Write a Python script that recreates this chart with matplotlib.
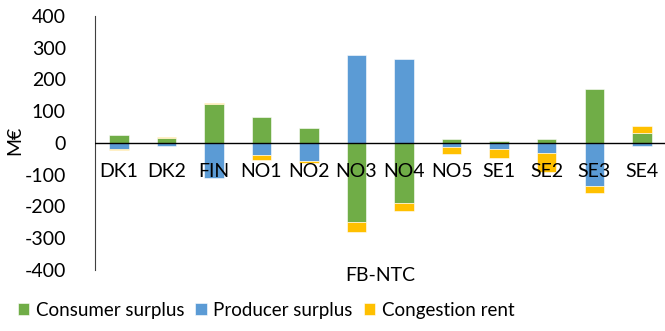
import matplotlib.pyplot as plt
import numpy as np

plt.rcParams['font.family'] = ['Lato', 'DejaVu Sans']
plt.rcParams['axes.unicode_minus'] = False

areas = ["DK1", "DK2", "FIN", "NO1", "NO2", "NO3", "NO4", "NO5", "SE1", "SE2", "SE3", "SE4"]
consumer = [24, 17, 123, 82, 48, -248, -190, 13, 7, 11, 170, 30]
producer = [-20, -10, -109, -38, -57, 276, 266, -14, -20, -33, -135, -11]
congestion = [-3, 3, 3, -15, -5, -32, -24, -21, -27, -58, -24, 22]

series = [("Consumer surplus", consumer, "#70AD47"),
          ("Producer surplus", producer, "#5B9BD5"),
          ("Congestion rent", congestion, "#FFC000")]

fig = plt.figure(figsize=(6.65, 3.31), dpi=100)
ax = fig.add_axes([0.1429, 0.1843, 0.858, 0.7674])

x = np.arange(len(areas))
pos_base = np.zeros(len(areas))
neg_base = np.zeros(len(areas))

# stack positive and negative parts separately, like a spreadsheet chart
for name, vals, color in series:
    vals = np.array(vals, dtype=float)
    base = np.where(vals >= 0, pos_base, neg_base)
    ax.bar(x, vals, width=0.41, bottom=base, color=color, label=name,
           edgecolor="white", linewidth=0.4, zorder=2)
    pos_base += np.clip(vals, 0, None)
    neg_base += np.clip(vals, None, 0)

ax.set_xlim(-0.5, len(areas) - 0.5)
ax.set_ylim(-400, 400)
ax.set_yticks(range(-400, 401, 100))
ax.tick_params(axis="y", length=0, labelsize=14, pad=21)
ax.set_xticks([])
ax.axhline(0, color="black", linewidth=1, zorder=3)

for side in ["top", "right", "bottom"]:
    ax.spines[side].set_visible(False)
ax.spines["left"].set_color("#404040")

# category labels sit just under the zero line
for xi, name in zip(x, areas):
    ax.text(xi, -90, name, ha="center", va="center", fontsize=14, zorder=4)

fig.text(15 / 665, 1 - 140 / 331, "M€", rotation=90, ha="center", va="center", fontsize=14)
fig.text(0.5715, 0.167, "FB-NTC", ha="center", va="center", fontsize=14)

fig.legend(loc="center", bbox_to_anchor=(266 / 665, 0.063), ncol=3, frameon=False,
           fontsize=13.5, handlelength=0.6, handleheight=0.6, handletextpad=0.35,
           columnspacing=0.6)

fig.savefig("out.png", dpi=100)
